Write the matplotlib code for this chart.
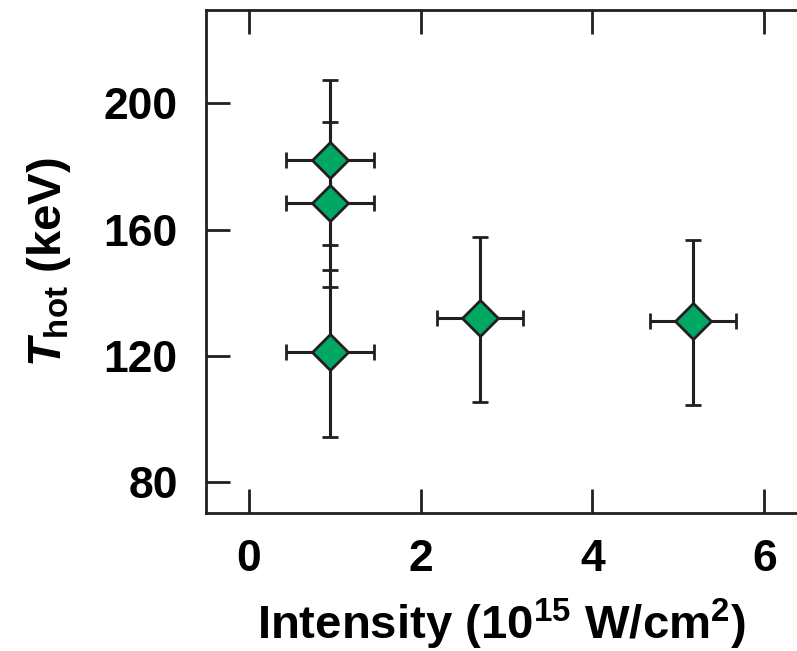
import matplotlib.pyplot as plt
import numpy as np

plt.rcParams['font.family'] = 'Liberation Sans'
plt.rcParams['font.weight'] = 'bold'
plt.rcParams['mathtext.fontset'] = 'custom'
plt.rcParams['mathtext.rm'] = 'Liberation Sans:bold'
plt.rcParams['mathtext.it'] = 'Liberation Sans:italic:bold'
plt.rcParams['mathtext.bf'] = 'Liberation Sans:bold'

# data
intensity = np.array([0.95, 0.95, 0.95, 2.69, 5.17])
t_hot = np.array([182.0, 168.4, 121.3, 131.9, 130.9])
t_low = np.array([155.3, 141.8, 94.4, 105.4, 104.3])
t_high = np.array([207.4, 194.2, 147.3, 157.8, 156.7])
int_err = np.array([0.51, 0.51, 0.51, 0.5, 0.5])

xticks = [0, 2, 4, 6]
yticks = [80, 120, 160, 200]

edge = '#231f20'
green = '#00a864'

fig = plt.figure(figsize=(7.97, 6.51), dpi=100)
ax = fig.add_axes([0.258, 0.212, 0.742, 0.772])

yerr = np.vstack([t_hot - t_low, t_high - t_hot])
ax.errorbar(intensity, t_hot, xerr=int_err, yerr=yerr, fmt='D',
            ms=18.5, mfc=green, mec=edge, mew=2.0, ecolor=edge,
            elinewidth=2.2, capsize=6, capthick=2.2)

ax.set_xlim(-0.5, 6.38)
ax.set_ylim(70.2, 229.5)
ax.set_xticks(xticks)
ax.set_yticks(yticks)

for s in ['left', 'bottom', 'top']:
    ax.spines[s].set_linewidth(2.0)
    ax.spines[s].set_color(edge)
ax.spines['right'].set_visible(False)

ax.tick_params(direction='in', length=17, width=2.0, color=edge,
               labelsize=32, top=True)
ax.tick_params(axis='x', pad=19)
ax.tick_params(axis='y', pad=20)

ax.set_xlabel(r'Intensity (10$^{15}$ W/cm$^{2}$)', fontsize=34,
              fontweight='bold', labelpad=12)
ax.set_ylabel(r'$\mathit{T}_{\mathrm{hot}}$ (keV)', fontsize=34,
              fontweight='bold', labelpad=22)

fig.savefig('out.png', dpi=100)
